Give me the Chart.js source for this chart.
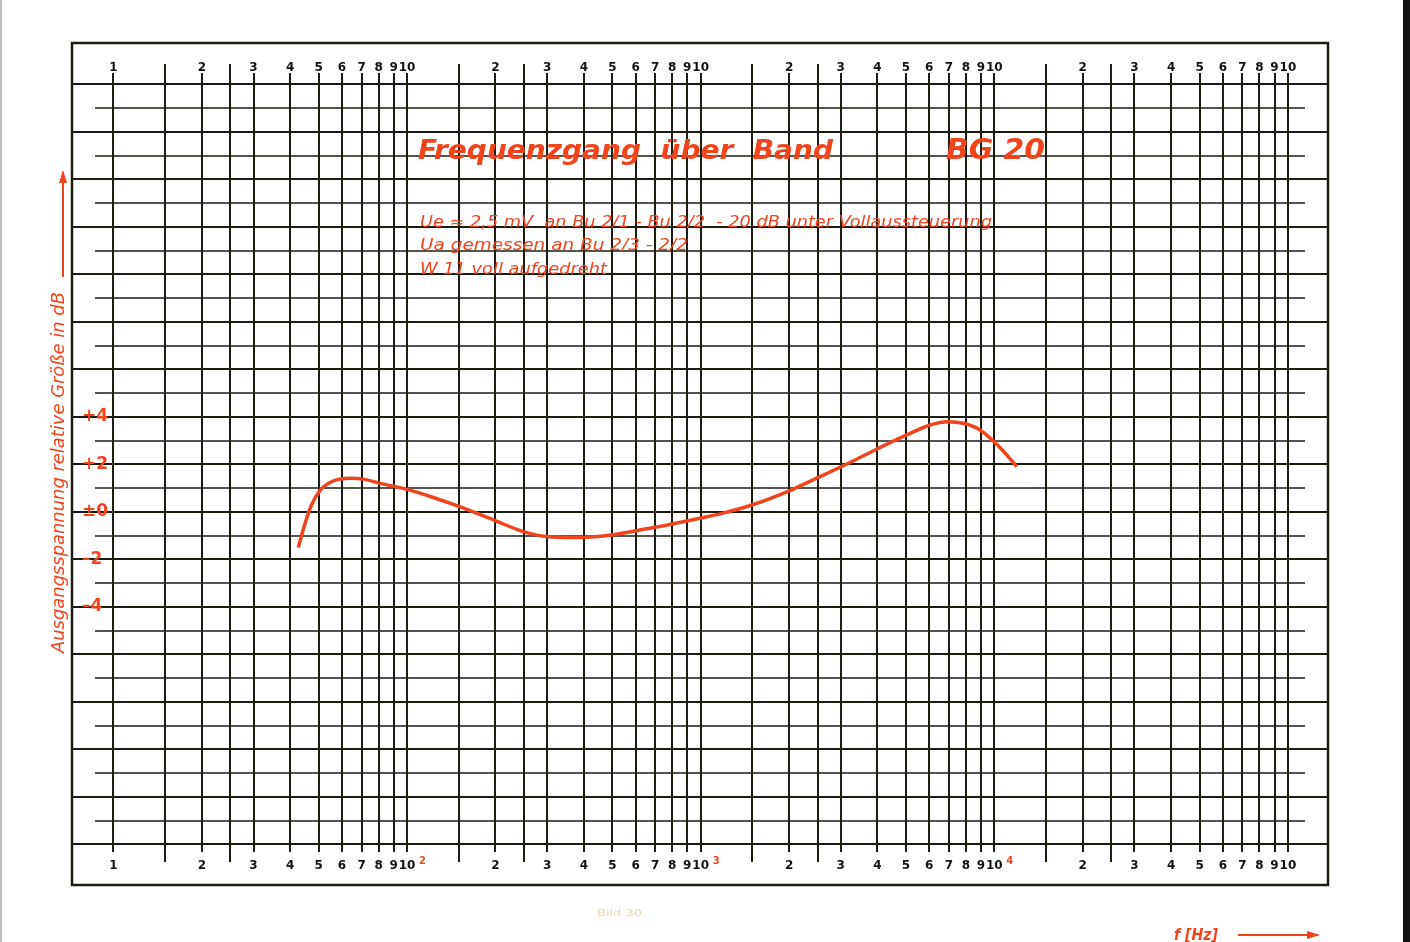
<!DOCTYPE html>
<html>
<head>
<meta charset="utf-8">
<script src="https://cdn.jsdelivr.net/npm/chart.js@4"></script>
<style>
html,body{margin:0;padding:0;background:#fff;}
canvas{display:block;}
</style>
</head>
<body>
<canvas id="chart" width="1410" height="942"></canvas>
<script>
window.addEventListener("load", () => {

/* ========= DATA ========= */

// frequency in Hz, level in dB
const freqHz = [42.6, 44.9, 47.3, 50.5, 56, 64, 71, 81, 100, 120, 151, 197, 249, 299, 368,
  497, 605, 698, 895, 1193, 1492, 2013, 2483, 3020, 3974, 5032, 6040, 6970, 7840, 8940,
  10050, 11020, 11920];
const levelDb = [-1.5, -0.5, 0.3, 0.9, 1.3, 1.42, 1.38, 1.2, 0.95, 0.65, 0.22, -0.34, -0.83,
  -1.04, -1.08, -0.97, -0.79, -0.65, -0.38, -0.05, 0.29, 0.9, 1.42, 1.91, 2.64, 3.24, 3.66,
  3.8, 3.73, 3.45, 2.92, 2.4, 1.91];

const decades = [10, 100, 1000, 10000];
const steps = [1, 1.5, 2, 2.5, 3, 4, 5, 6, 7, 8, 9];
const stepLabels = ["1", "", "2", "", "3", "4", "5", "6", "7", "8", "9"];
const exponents = ["2", "3", "4"];

const dbTicks = [];
for (let v = -14; v <= 18; v++) dbTicks.push(v);
const dbLabels = {"4": "+4", "2": "+2", "0": "±0", "-2": "–2", "-4": "–4"};

/* ========= TICKS ========= */

const xTicks = [], xLabels = [];
decades.forEach((d, i) => {
  steps.forEach((s, j) => {
    xTicks.push(d * s);
    if (j === 0) xLabels.push(i === 0 ? "1" : "10");
    else xLabels.push(stepLabels[j]);
  });
});
xTicks.push(100000);
xLabels.push("10");

const RED = "#f0441c";
const INK = "#1c1c12";

function fitText(ctx, txt, x, y, w, font, color){
  ctx.save();
  ctx.font = font;
  ctx.fillStyle = color;
  ctx.textBaseline = "alphabetic";
  ctx.textAlign = "left";
  const m = ctx.measureText(txt).width;
  ctx.translate(x, y);
  ctx.scale(w / m, 1);
  ctx.fillText(txt, 0, 0);
  ctx.restore();
}

function arrow(ctx, x1, y1, x2, y2){
  const a = Math.atan2(y2 - y1, x2 - x1);
  ctx.save();
  ctx.strokeStyle = RED; ctx.fillStyle = RED; ctx.lineWidth = 2;
  ctx.beginPath(); ctx.moveTo(x1, y1); ctx.lineTo(x2, y2); ctx.stroke();
  ctx.translate(x2, y2); ctx.rotate(a);
  ctx.beginPath(); ctx.moveTo(2, 0); ctx.lineTo(-11, -4); ctx.lineTo(-11, 4); ctx.closePath(); ctx.fill();
  ctx.restore();
}

/* ========= PAPER PLUGIN ========= */

const paper = {
  id: "paper",
  beforeDatasetsDraw(chart){
    const ctx = chart.ctx, xs = chart.scales.x, ys = chart.scales.y, a = chart.chartArea;
    ctx.save();
    ctx.strokeStyle = INK;
    // short odd-dB lines
    ctx.lineWidth = 1.6;
    dbTicks.forEach(v => {
      if (Math.abs(v) % 2 !== 1) return;
      const y = Math.round(ys.getPixelForValue(v));
      ctx.beginPath(); ctx.moveTo(95, y); ctx.lineTo(1305, y); ctx.stroke();
    });
    // 1.5 / 2.5 lines stick out a bit
    ctx.lineWidth = 2;
    decades.forEach(d => {
      [1.5, 2.5].forEach(s => {
        const x = Math.round(xs.getPixelForValue(d * s));
        ctx.beginPath(); ctx.moveTo(x, a.top - 9); ctx.lineTo(x, a.top); ctx.stroke();
        ctx.beginPath(); ctx.moveTo(x, a.bottom); ctx.lineTo(x, a.bottom + 10); ctx.stroke();
      });
    });
    ctx.restore();
  },
  afterDraw(chart){
    const ctx = chart.ctx, xs = chart.scales.x;
    ctx.save();
    // frame
    ctx.strokeStyle = INK; ctx.lineWidth = 2.5;
    ctx.strokeRect(72, 43, 1256, 842);
    // scan edges
    ctx.fillStyle = "#111"; ctx.fillRect(1403, 0, 7, 942);
    ctx.fillStyle = "#bbb"; ctx.fillRect(0, 0, 2, 942);

    // decade exponents
    ctx.font = "bold 10px 'DejaVu Sans'";
    ctx.fillStyle = RED;
    ctx.textBaseline = "middle";
    [100, 1000, 10000].forEach((v, i) => {
      ctx.fillText(exponents[i], xs.getPixelForValue(v) + 12, 861);
    });

    // title
    fitText(ctx, "Frequenzgang  über  Band", 418, 159, 415, "italic bold 27px 'DejaVu Sans'", RED);
    fitText(ctx, "BG 20", 946, 159, 99, "italic bold 28px 'DejaVu Sans'", RED);

    // notes
    fitText(ctx, "Ue ≈ 2,5 mV  an Bu 2/1 - Bu 2/2  - 20 dB unter Vollaussteuerung", 420, 227, 572, "italic 15px 'DejaVu Sans'", RED);
    fitText(ctx, "Ua gemessen an Bu 2/3 - 2/2", 420, 250, 268, "italic 15px 'DejaVu Sans'", RED);
    fitText(ctx, "W 11 voll aufgedreht", 420, 274, 187, "italic 15px 'DejaVu Sans'", RED);

    // y title + arrow
    ctx.save();
    ctx.translate(64, 653);
    ctx.rotate(-Math.PI / 2);
    fitText(ctx, "Ausgangsspannung relative Größe in dB", 0, 0, 361, "italic 17px 'DejaVu Sans'", RED);
    ctx.restore();
    arrow(ctx, 63, 277, 63, 172);

    // x title + arrow
    fitText(ctx, "f [Hz]", 1174, 940, 44, "italic bold 15px 'DejaVu Sans'", RED);
    arrow(ctx, 1238, 935, 1318, 935);

    // faint caption
    fitText(ctx, "Bild 30", 597, 916, 45, "9px 'DejaVu Sans'", "#ecd7a6");
    ctx.restore();
  }
};

/* ========= CHART ========= */

const ctx = document.getElementById("chart").getContext("2d");

const tickFont = {family: "'DejaVu Sans'", size: 12, weight: "bold"};

new Chart(ctx, {
  type: "line",
  data: {
    datasets: [{
      data: freqHz.map((f, i) => ({x: f, y: levelDb[i]})),
      borderColor: RED,
      borderWidth: 3.5,
      pointRadius: 0,
      cubicInterpolationMode: "monotone",
      fill: false
    }]
  },
  options: {
    responsive: false,
    animation: false,
    devicePixelRatio: 1,
    layout: {padding: {left: 72, right: 82, top: 43, bottom: 60}},
    plugins: {legend: {display: false}, tooltip: {enabled: false}},
    scales: {
      x: {
        type: "logarithmic",
        position: "bottom",
        min: 7.225,
        max: 136900,
        afterBuildTicks: s => { s.ticks = xTicks.map(v => ({value: v})); },
        afterFit: s => { s.height = 30; },
        border: {display: false},
        grid: {color: INK, lineWidth: 2, drawTicks: false},
        ticks: {
          autoSkip: false, maxRotation: 0, padding: 7,
          color: "#111", font: tickFont,
          callback: (v, i) => xLabels[i]
        }
      },
      x2: {
        type: "logarithmic",
        position: "top",
        min: 7.225,
        max: 136900,
        afterBuildTicks: s => { s.ticks = xTicks.map(v => ({value: v})); },
        afterFit: s => { s.height = 30; },
        border: {display: false},
        grid: {display: false, drawTicks: false},
        ticks: {
          autoSkip: false, maxRotation: 0, padding: -2,
          color: "#111", font: tickFont,
          callback: (v, i) => xLabels[i]
        }
      },
      y: {
        type: "linear",
        min: -14.32,
        max: 18.48,
        afterBuildTicks: s => { s.ticks = dbTicks.map(v => ({value: v})); },
        afterFit: s => { s.width = 0; },
        border: {display: false},
        grid: {
          drawTicks: false,
          lineWidth: 2,
          color: c => (Math.abs(c.tick.value) % 2 === 1 ? "rgba(0,0,0,0)" : INK)
        },
        ticks: {
          mirror: true, padding: 10,
          color: RED,
          font: {family: "'DejaVu Sans'", size: 17, weight: "bold"},
          callback: v => dbLabels[String(v)] || ""
        }
      }
    }
  },
  plugins: [paper]
});

});
</script>
</body>
</html>
